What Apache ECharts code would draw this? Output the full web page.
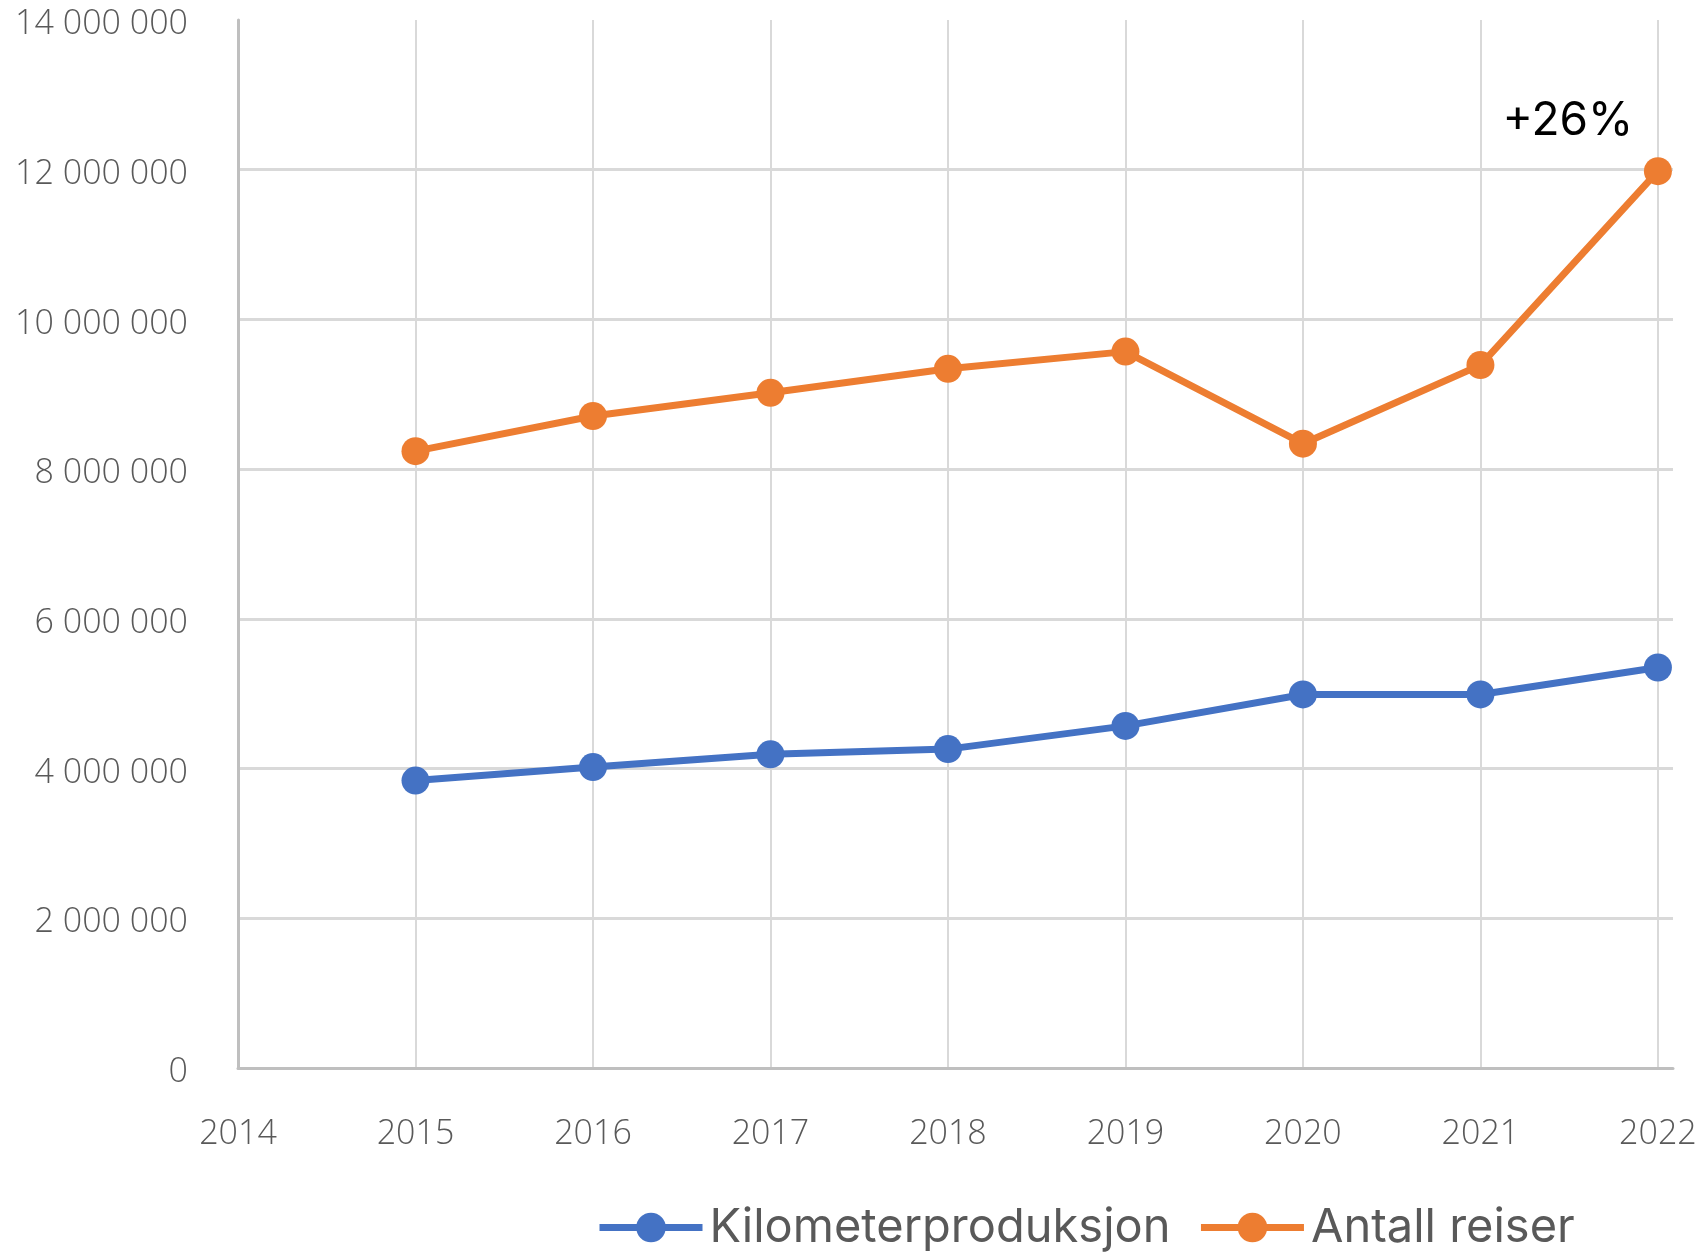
<!DOCTYPE html>
<html>
<head>
<meta charset="utf-8">
<script src="https://cdn.jsdelivr.net/npm/echarts@6/dist/echarts.min.js"></script>
<style>
  html, body { margin: 0; padding: 0; background: #fff; }
  #chart { width: 1696px; height: 1253px; }
</style>
</head>
<body>
<div id="chart"></div>
<script>
// years on the x axis
const years = [2015, 2016, 2017, 2018, 2019, 2020, 2021, 2022]
// Kilometerproduksjon
const kmValues = [3840000, 4020000, 4190000, 4260000, 4570000, 4990000, 4990000, 5350000]
// Antall reiser
const tripValues = [8240000, 8710000, 9020000, 9340000, 9570000, 8340000, 9390000, 11980000]
const seriesNames = ['Kilometerproduksjon', 'Antall reiser']
const growthLabel = '+26%'

const chart = echarts.init(document.getElementById('chart'))

const axisFont = {
  fontFamily: 'Open Sans',
  fontWeight: 300,
  fontSize: 34,
  color: '#595959'
}

function spaced(v)
{
  return '{t|' + String(v).replace(/\B(?=(\d{3})+(?!\d))/g, ' ') + '}'
}

const tripData = years.map((y, i) =>
{
  const item = { value: [y, tripValues[i]] }
  // label only on the last point
  if (i === years.length - 1)
  {
    item.label = {
      show: true,
      formatter: growthLabel,
      position: 'top',
      offset: [-90, -8],
      fontFamily: 'Inter',
      fontSize: 46,
      color: '#000'
    }
  }
  return item
})

const option = {
  animation: false,
  grid: { left: 238, right: 23, top: 20, bottom: 185, outerBoundsMode: 'none' },
  legend: {
    top: 1199,
    left: 591,
    itemWidth: 103,
    itemHeight: 37,
    itemGap: 27,
    lineStyle: { width: 7 },
    textStyle: { fontFamily: 'Inter', fontSize: 47, color: '#595959', padding: [0, 0, 0, 2] },
    data: seriesNames
  },
  xAxis: {
    type: 'value',
    min: 2014,
    max: 2022.085,
    interval: 1,
    axisLine: { show: true, onZero: false, lineStyle: { color: '#bfbfbf', width: 3 } },
    axisTick: { show: false },
    axisLabel: Object.assign({ margin: 49, showMaxLabel: false, formatter: v => String(v) }, axisFont),
    splitLine: { show: true, showMaxLine: false, lineStyle: { color: '#d9d9d9', width: 2 } }
  },
  yAxis: {
    type: 'value',
    min: 0,
    max: 14000000,
    interval: 2000000,
    axisLine: { show: true, lineStyle: { color: '#bfbfbf', width: 3 } },
    axisTick: { show: false },
    axisLabel: Object.assign({
      margin: 50,
      formatter: spaced,
      rich: { t: Object.assign({ padding: [9, 0, 0, 0] }, axisFont) }
    }, axisFont),
    splitLine: { show: true, showMaxLine: false, lineStyle: { color: '#d9d9d9', width: 3 } }
  },
  series: [
    {
      name: seriesNames[0],
      type: 'line',
      data: years.map((y, i) => [y, kmValues[i]]),
      symbol: 'circle',
      symbolSize: 28,
      z: 3,
      itemStyle: { color: '#4472c4' },
      lineStyle: { color: '#4472c4', width: 7 }
    },
    {
      name: seriesNames[1],
      type: 'line',
      data: tripData,
      symbol: 'circle',
      symbolSize: 28,
      z: 2,
      itemStyle: { color: '#ed7d31' },
      lineStyle: { color: '#ed7d31', width: 7 }
    }
  ]
}

chart.setOption(option)
</script>
</body>
</html>
